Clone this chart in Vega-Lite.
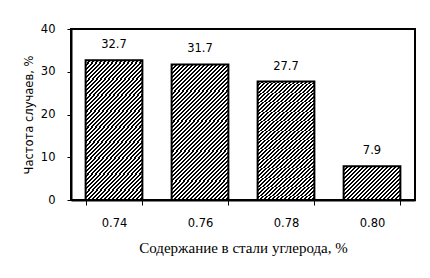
{
  "$schema": "https://vega.github.io/schema/vega-lite/v6.json",
  "width": 344,
  "height": 171,
  "autosize": {"type": "none"},
  "padding": {"left": 71, "top": 29, "right": 15, "bottom": 78},
  "background": "white",
  "config": {
    "view": {"stroke": "black", "strokeWidth": 2},
    "axis": {
      "domainColor": "black",
      "domainWidth": 2,
      "tickColor": "black",
      "tickWidth": 1,
      "grid": false,
      "labelFont": "DejaVu Sans",
      "labelFontSize": 11.5,
      "labelColor": "black",
      "titleColor": "black",
      "titleFontWeight": "normal"
    }
  },
  "data": {
    "values": [
      {"carbon": "0.74", "freq": 32.7},
      {"carbon": "0.76", "freq": 31.7},
      {"carbon": "0.78", "freq": 27.7},
      {"carbon": "0.80", "freq": 7.9}
    ]
  },
  "encoding": {
    "x": {
      "field": "carbon",
      "type": "nominal",
      "sort": null,
      "scale": {"paddingInner": 0.34, "paddingOuter": 0.17},
      "axis": {
        "title": "Содержание в стали углерода, %",
        "titleFont": "Liberation Serif",
        "titleFontSize": 15,
        "titleBaseline": "alphabetic",
        "titleY": 52,
        "labelAngle": 0,
        "tickBand": "extent",
        "tickSize": 5,
        "labelPadding": 12
      }
    },
    "y": {
      "field": "freq",
      "type": "quantitative",
      "scale": {"domain": [0, 40], "nice": false},
      "axis": {
        "title": "Частота случаев, %",
        "titleFont": "DejaVu Sans",
        "titleFontSize": 11.5,
        "titleBaseline": "middle",
        "titleX": -42,
        "titleY": 85.5,
        "values": [0, 10, 20, 30, 40],
        "tickSize": 4,
        "labelPadding": 12
      }
    }
  },
  "layer": [
    {
      "mark": {"type": "bar", "stroke": "black", "strokeWidth": 2},
      "encoding": {
        "fill": {
          "condition": {
            "test": "datum.carbon === '0.80'",
            "value": {"gradient": "linear", "x1": 0, "y1": 0, "x2": 2.6024, "y2": 1.5483, "stops": [
              {"offset":0,"color":"#000"},{"offset":0.01,"color":"#000"},{"offset":0.01,"color":"#fff"},{"offset":0.02,"color":"#fff"},
              {"offset":0.02,"color":"#000"},{"offset":0.03,"color":"#000"},{"offset":0.03,"color":"#fff"},{"offset":0.04,"color":"#fff"},
              {"offset":0.04,"color":"#000"},{"offset":0.05,"color":"#000"},{"offset":0.05,"color":"#fff"},{"offset":0.06,"color":"#fff"},
              {"offset":0.06,"color":"#000"},{"offset":0.07,"color":"#000"},{"offset":0.07,"color":"#fff"},{"offset":0.08,"color":"#fff"},
              {"offset":0.08,"color":"#000"},{"offset":0.09,"color":"#000"},{"offset":0.09,"color":"#fff"},{"offset":0.10,"color":"#fff"},
              {"offset":0.10,"color":"#000"},{"offset":0.11,"color":"#000"},{"offset":0.11,"color":"#fff"},{"offset":0.12,"color":"#fff"},
              {"offset":0.12,"color":"#000"},{"offset":0.13,"color":"#000"},{"offset":0.13,"color":"#fff"},{"offset":0.14,"color":"#fff"},
              {"offset":0.14,"color":"#000"},{"offset":0.15,"color":"#000"},{"offset":0.15,"color":"#fff"},{"offset":0.16,"color":"#fff"},
              {"offset":0.16,"color":"#000"},{"offset":0.17,"color":"#000"},{"offset":0.17,"color":"#fff"},{"offset":0.18,"color":"#fff"},
              {"offset":0.18,"color":"#000"},{"offset":0.19,"color":"#000"},{"offset":0.19,"color":"#fff"},{"offset":0.20,"color":"#fff"},
              {"offset":0.20,"color":"#000"},{"offset":0.21,"color":"#000"},{"offset":0.21,"color":"#fff"},{"offset":0.22,"color":"#fff"},
              {"offset":0.22,"color":"#000"},{"offset":0.23,"color":"#000"},{"offset":0.23,"color":"#fff"},{"offset":0.24,"color":"#fff"},
              {"offset":0.24,"color":"#000"},{"offset":0.25,"color":"#000"},{"offset":0.25,"color":"#fff"},{"offset":0.26,"color":"#fff"},
              {"offset":0.26,"color":"#000"},{"offset":0.27,"color":"#000"},{"offset":0.27,"color":"#fff"},{"offset":0.28,"color":"#fff"},
              {"offset":0.28,"color":"#000"},{"offset":0.29,"color":"#000"},{"offset":0.29,"color":"#fff"},{"offset":0.30,"color":"#fff"},
              {"offset":0.30,"color":"#000"},{"offset":0.31,"color":"#000"},{"offset":0.31,"color":"#fff"},{"offset":0.32,"color":"#fff"},
              {"offset":0.32,"color":"#000"},{"offset":0.33,"color":"#000"},{"offset":0.33,"color":"#fff"},{"offset":0.34,"color":"#fff"},
              {"offset":0.34,"color":"#000"},{"offset":0.35,"color":"#000"},{"offset":0.35,"color":"#fff"},{"offset":0.36,"color":"#fff"},
              {"offset":0.36,"color":"#000"},{"offset":0.37,"color":"#000"},{"offset":0.37,"color":"#fff"},{"offset":0.38,"color":"#fff"},
              {"offset":0.38,"color":"#000"},{"offset":0.39,"color":"#000"},{"offset":0.39,"color":"#fff"},{"offset":0.40,"color":"#fff"},
              {"offset":0.40,"color":"#000"},{"offset":0.41,"color":"#000"},{"offset":0.41,"color":"#fff"},{"offset":0.42,"color":"#fff"},
              {"offset":0.42,"color":"#000"},{"offset":0.43,"color":"#000"},{"offset":0.43,"color":"#fff"},{"offset":0.44,"color":"#fff"},
              {"offset":0.44,"color":"#000"},{"offset":0.45,"color":"#000"},{"offset":0.45,"color":"#fff"},{"offset":0.46,"color":"#fff"},
              {"offset":0.46,"color":"#000"},{"offset":0.47,"color":"#000"},{"offset":0.47,"color":"#fff"},{"offset":0.48,"color":"#fff"}
            ]}
          },
          "value": {"gradient": "linear", "x1": 0, "y1": 0, "x2": 0.5569, "y2": 1.2854, "stops": [
            {"offset":0,"color":"#000"},{"offset":0.01,"color":"#000"},{"offset":0.01,"color":"#fff"},{"offset":0.02,"color":"#fff"},
            {"offset":0.02,"color":"#000"},{"offset":0.03,"color":"#000"},{"offset":0.03,"color":"#fff"},{"offset":0.04,"color":"#fff"},
            {"offset":0.04,"color":"#000"},{"offset":0.05,"color":"#000"},{"offset":0.05,"color":"#fff"},{"offset":0.06,"color":"#fff"},
            {"offset":0.06,"color":"#000"},{"offset":0.07,"color":"#000"},{"offset":0.07,"color":"#fff"},{"offset":0.08,"color":"#fff"},
            {"offset":0.08,"color":"#000"},{"offset":0.09,"color":"#000"},{"offset":0.09,"color":"#fff"},{"offset":0.10,"color":"#fff"},
            {"offset":0.10,"color":"#000"},{"offset":0.11,"color":"#000"},{"offset":0.11,"color":"#fff"},{"offset":0.12,"color":"#fff"},
            {"offset":0.12,"color":"#000"},{"offset":0.13,"color":"#000"},{"offset":0.13,"color":"#fff"},{"offset":0.14,"color":"#fff"},
            {"offset":0.14,"color":"#000"},{"offset":0.15,"color":"#000"},{"offset":0.15,"color":"#fff"},{"offset":0.16,"color":"#fff"},
            {"offset":0.16,"color":"#000"},{"offset":0.17,"color":"#000"},{"offset":0.17,"color":"#fff"},{"offset":0.18,"color":"#fff"},
            {"offset":0.18,"color":"#000"},{"offset":0.19,"color":"#000"},{"offset":0.19,"color":"#fff"},{"offset":0.20,"color":"#fff"},
            {"offset":0.20,"color":"#000"},{"offset":0.21,"color":"#000"},{"offset":0.21,"color":"#fff"},{"offset":0.22,"color":"#fff"},
            {"offset":0.22,"color":"#000"},{"offset":0.23,"color":"#000"},{"offset":0.23,"color":"#fff"},{"offset":0.24,"color":"#fff"},
            {"offset":0.24,"color":"#000"},{"offset":0.25,"color":"#000"},{"offset":0.25,"color":"#fff"},{"offset":0.26,"color":"#fff"},
            {"offset":0.26,"color":"#000"},{"offset":0.27,"color":"#000"},{"offset":0.27,"color":"#fff"},{"offset":0.28,"color":"#fff"},
            {"offset":0.28,"color":"#000"},{"offset":0.29,"color":"#000"},{"offset":0.29,"color":"#fff"},{"offset":0.30,"color":"#fff"},
            {"offset":0.30,"color":"#000"},{"offset":0.31,"color":"#000"},{"offset":0.31,"color":"#fff"},{"offset":0.32,"color":"#fff"},
            {"offset":0.32,"color":"#000"},{"offset":0.33,"color":"#000"},{"offset":0.33,"color":"#fff"},{"offset":0.34,"color":"#fff"},
            {"offset":0.34,"color":"#000"},{"offset":0.35,"color":"#000"},{"offset":0.35,"color":"#fff"},{"offset":0.36,"color":"#fff"},
            {"offset":0.36,"color":"#000"},{"offset":0.37,"color":"#000"},{"offset":0.37,"color":"#fff"},{"offset":0.38,"color":"#fff"},
            {"offset":0.38,"color":"#000"},{"offset":0.39,"color":"#000"},{"offset":0.39,"color":"#fff"},{"offset":0.40,"color":"#fff"},
            {"offset":0.40,"color":"#000"},{"offset":0.41,"color":"#000"},{"offset":0.41,"color":"#fff"},{"offset":0.42,"color":"#fff"},
            {"offset":0.42,"color":"#000"},{"offset":0.43,"color":"#000"},{"offset":0.43,"color":"#fff"},{"offset":0.44,"color":"#fff"},
            {"offset":0.44,"color":"#000"},{"offset":0.45,"color":"#000"},{"offset":0.45,"color":"#fff"},{"offset":0.46,"color":"#fff"},
            {"offset":0.46,"color":"#000"},{"offset":0.47,"color":"#000"},{"offset":0.47,"color":"#fff"},{"offset":0.48,"color":"#fff"},
            {"offset":0.48,"color":"#000"},{"offset":0.49,"color":"#000"},{"offset":0.49,"color":"#fff"},{"offset":0.50,"color":"#fff"},
            {"offset":0.50,"color":"#000"},{"offset":0.51,"color":"#000"},{"offset":0.51,"color":"#fff"},{"offset":0.52,"color":"#fff"},
            {"offset":0.52,"color":"#000"},{"offset":0.53,"color":"#000"},{"offset":0.53,"color":"#fff"},{"offset":0.54,"color":"#fff"},
            {"offset":0.54,"color":"#000"},{"offset":0.55,"color":"#000"},{"offset":0.55,"color":"#fff"},{"offset":0.56,"color":"#fff"},
            {"offset":0.56,"color":"#000"},{"offset":0.57,"color":"#000"},{"offset":0.57,"color":"#fff"},{"offset":0.58,"color":"#fff"},
            {"offset":0.58,"color":"#000"},{"offset":0.59,"color":"#000"},{"offset":0.59,"color":"#fff"},{"offset":0.60,"color":"#fff"},
            {"offset":0.60,"color":"#000"},{"offset":0.61,"color":"#000"},{"offset":0.61,"color":"#fff"},{"offset":0.62,"color":"#fff"},
            {"offset":0.62,"color":"#000"},{"offset":0.63,"color":"#000"},{"offset":0.63,"color":"#fff"},{"offset":0.64,"color":"#fff"},
            {"offset":0.64,"color":"#000"},{"offset":0.65,"color":"#000"},{"offset":0.65,"color":"#fff"},{"offset":0.66,"color":"#fff"},
            {"offset":0.66,"color":"#000"},{"offset":0.67,"color":"#000"},{"offset":0.67,"color":"#fff"},{"offset":0.68,"color":"#fff"},
            {"offset":0.68,"color":"#000"},{"offset":0.69,"color":"#000"},{"offset":0.69,"color":"#fff"},{"offset":0.70,"color":"#fff"},
            {"offset":0.70,"color":"#000"},{"offset":0.71,"color":"#000"},{"offset":0.71,"color":"#fff"},{"offset":0.72,"color":"#fff"},
            {"offset":0.72,"color":"#000"},{"offset":0.73,"color":"#000"},{"offset":0.73,"color":"#fff"},{"offset":0.74,"color":"#fff"},
            {"offset":0.74,"color":"#000"},{"offset":0.75,"color":"#000"},{"offset":0.75,"color":"#fff"},{"offset":0.76,"color":"#fff"},
            {"offset":0.76,"color":"#000"},{"offset":0.77,"color":"#000"},{"offset":0.77,"color":"#fff"},{"offset":0.78,"color":"#fff"},
            {"offset":0.78,"color":"#000"},{"offset":0.79,"color":"#000"},{"offset":0.79,"color":"#fff"},{"offset":0.80,"color":"#fff"},
            {"offset":0.80,"color":"#000"},{"offset":0.81,"color":"#000"},{"offset":0.81,"color":"#fff"},{"offset":0.82,"color":"#fff"},
            {"offset":0.82,"color":"#000"},{"offset":0.83,"color":"#000"},{"offset":0.83,"color":"#fff"},{"offset":0.84,"color":"#fff"},
            {"offset":0.84,"color":"#000"},{"offset":0.85,"color":"#000"},{"offset":0.85,"color":"#fff"},{"offset":0.86,"color":"#fff"},
            {"offset":0.86,"color":"#000"},{"offset":0.87,"color":"#000"},{"offset":0.87,"color":"#fff"},{"offset":0.88,"color":"#fff"},
            {"offset":0.88,"color":"#000"},{"offset":0.89,"color":"#000"},{"offset":0.89,"color":"#fff"},{"offset":0.90,"color":"#fff"},
            {"offset":0.90,"color":"#000"},{"offset":0.91,"color":"#000"},{"offset":0.91,"color":"#fff"},{"offset":0.92,"color":"#fff"},
            {"offset":0.92,"color":"#000"},{"offset":0.93,"color":"#000"},{"offset":0.93,"color":"#fff"},{"offset":0.94,"color":"#fff"},
            {"offset":0.94,"color":"#000"},{"offset":0.95,"color":"#000"},{"offset":0.95,"color":"#fff"},{"offset":0.96,"color":"#fff"}
          ]}
        }
      }
    },
    {
      "mark": {"type": "text", "font": "DejaVu Sans", "fontSize": 11.5, "baseline": "alphabetic", "dy": -12, "color": "black"},
      "encoding": {"text": {"field": "freq", "type": "quantitative", "format": ".1f"}}
    }
  ]
}
